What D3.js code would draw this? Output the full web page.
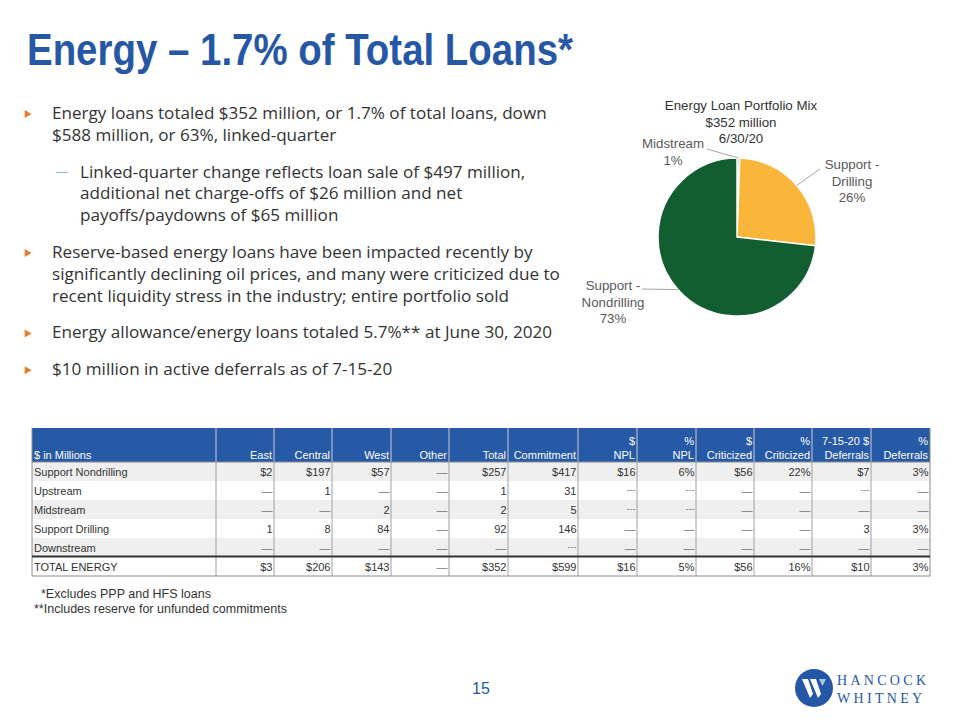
<!DOCTYPE html>
<html>
<head>
<meta charset="utf-8">
<script src="https://cdn.jsdelivr.net/npm/d3@7"></script>
<style>
  body { margin: 0; background: #fff; }
  svg { display: block; }
</style>
</head>
<body>
<svg width="960" height="720"></svg>
<script>
// slide text
const titleText = "Energy \u2013 1.7% of Total Loans*";
const bullets = [
  { level: 1, lines: ["Energy loans totaled $352 million, or 1.7% of total loans, down", "$588 million, or 63%, linked-quarter"] },
  { level: 2, lines: ["Linked-quarter change reflects loan sale of $497 million,", "additional net charge-offs of $26 million and net", "payoffs/paydowns of $65 million"] },
  { level: 1, lines: ["Reserve-based energy loans have been impacted recently by", "significantly declining oil prices, and many were criticized due to", "recent liquidity stress in the industry; entire portfolio sold"] },
  { level: 1, lines: ["Energy allowance/energy loans totaled 5.7%** at June 30, 2020"] },
  { level: 1, lines: ["$10 million in active deferrals as of 7-15-20"] }
];

// pie data
const pieTitle = ["Energy Loan Portfolio Mix", "$352 million", "6/30/20"];
const pieCategories = ["Midstream", "Support - Drilling", "Support - Nondrilling"];
const pieValues = [2, 92, 257];
const pieColors = ["#d3d3d3", "#f9b63b", "#135e30"];

// table data
const headers = [["$ in Millions"], ["East"], ["Central"], ["West"], ["Other"], ["Total"], ["Commitment"],
  ["$", "NPL"], ["%", "NPL"], ["$", "Criticized"], ["%", "Criticized"], ["7-15-20 $", "Deferrals"], ["%", "Deferrals"]];
const rowNames = ["Support Nondrilling", "Upstream", "Midstream", "Support Drilling", "Downstream", "TOTAL ENERGY"];
const supportNondrilling = ["$2", "$197", "$57", "\u2014", "$257", "$417", "$16", "6%", "$56", "22%", "$7", "3%"];
const upstream = ["\u2014", "1", "\u2014", "\u2014", "1", "31", "---", "---", "\u2014", "\u2014", "---", "\u2014"];
const midstream = ["\u2014", "\u2014", "2", "\u2014", "2", "5", "---", "---", "\u2014", "\u2014", "\u2014", "\u2014"];
const supportDrilling = ["1", "8", "84", "\u2014", "92", "146", "\u2014", "\u2014", "\u2014", "\u2014", "3", "3%"];
const downstream = ["\u2014", "\u2014", "\u2014", "\u2014", "\u2014", "---", "\u2014", "\u2014", "\u2014", "\u2014", "\u2014", "\u2014"];
const totalEnergy = ["$3", "$206", "$143", "\u2014", "$352", "$599", "$16", "5%", "$56", "16%", "$10", "3%"];
const tableRows = [supportNondrilling, upstream, midstream, supportDrilling, downstream, totalEnergy];
const footnotes = ["  *Excludes PPP and HFS loans", "**Includes reserve for unfunded commitments"];
const pageNumber = "15";

// layout
const colWidths = [184, 58, 58, 59, 58, 59, 70, 59, 59, 58, 58, 59, 59];
const blue = "#2557a4";
const textColor = "#333333";

const svg = d3.select("svg");
const width = +svg.attr("width");
const height = +svg.attr("height");

// title (condensed face in the original, so squeeze to its width)
svg.append("text")
  .attr("x", 27).attr("y", 65)
  .attr("font-family", "'Liberation Sans', Arial, sans-serif")
  .attr("font-weight", "bold")
  .attr("font-size", 44)
  .attr("textLength", 546)
  .attr("lengthAdjust", "spacingAndGlyphs")
  .attr("fill", blue)
  .text(titleText);

// bullets
const bulletFont = "'Open Sans', 'Liberation Sans', sans-serif";
const lineGap = 21.8;
const paraGap = 15;
let y = 119;
bullets.forEach((b, i) => {
  if (i > 0) y += paraGap;
  const tx = b.level === 1 ? 52 : 80;
  if (b.level === 1) {
    svg.append("path")
      .attr("d", d3.symbol(d3.symbolTriangle, 28)())
      .attr("transform", `translate(27,${y - 5}) rotate(90)`)
      .attr("fill", "#e87d32");
  } else {
    svg.append("line")
      .attr("x1", 56).attr("x2", 68)
      .attr("y1", y - 5).attr("y2", y - 5)
      .attr("stroke", "#8db3e2").attr("stroke-width", 1);
  }
  b.lines.forEach((ln, j) => {
    svg.append("text")
      .attr("x", tx).attr("y", y)
      .attr("font-family", bulletFont)
      .attr("font-size", 17.1)
      .attr("fill", textColor)
      .text(ln);
    if (j < b.lines.length - 1) y += lineGap;
  });
  y += lineGap;
});

// pie chart
const cx = 737, cy = 237, r = 79;
const pieG = svg.append("g").attr("transform", `translate(${cx},${cy})`);
const pie = d3.pie().sort(null).value(d => d)(pieValues);
const total = d3.sum(pieValues);
const arc = d3.arc().innerRadius(0).outerRadius(r);
const edgeArc = d3.arc().innerRadius(r).outerRadius(r);

pieG.selectAll("path.slice").data(pie).enter()
  .append("path")
  .attr("class", "slice")
  .attr("d", arc)
  .attr("fill", (d, i) => pieColors[i])
  .attr("stroke", "#fff")
  .attr("stroke-width", 1.5);

const labelFont = "'Liberation Sans', Arial, sans-serif";
const pieTitleG = svg.append("g")
  .attr("font-family", labelFont)
  .attr("font-size", 13.3)
  .attr("fill", textColor)
  .attr("text-anchor", "middle");
pieTitle.forEach((t, i) => {
  pieTitleG.append("text").attr("x", 741).attr("y", 110 + i * 16.5).text(t);
});

// label layout: text anchor and leader start, relative to centre
const labelLayout = [
  { x: -64, y: -89, lx: -30, ly: -88 },
  { x: 115, y: -68, lx: 83, ly: -68 },
  { x: -124, y: 53, lx: -95, ly: 52 }
];
pie.forEach((d, i) => {
  const L = labelLayout[i];
  const name = pieCategories[i];
  const pct = Math.round(d.value / total * 100) + "%";
  const parts = name.split(" - ");
  const lines = parts.length > 1 ? [parts[0] + " -", parts[1], pct] : [name, pct];
  const [ex, ey] = edgeArc.centroid(d);
  pieG.append("line")
    .attr("x1", L.lx).attr("y1", L.ly)
    .attr("x2", ex).attr("y2", ey)
    .attr("stroke", "#a6a6a6").attr("stroke-width", 1);
  lines.forEach((t, j) => {
    pieG.append("text")
      .attr("x", L.x).attr("y", L.y + j * 16.5)
      .attr("text-anchor", "middle")
      .attr("font-family", labelFont)
      .attr("font-size", 13.3)
      .attr("fill", "#595959")
      .text(t);
  });
});

// table
const tableLeft = 32, headerTop = 428, headerH = 34, rowH = 19;
const edges = [tableLeft];
colWidths.forEach(w => edges.push(edges[edges.length - 1] + w));
const tableRight = edges[edges.length - 1];
const colX = d3.scaleOrdinal().domain(d3.range(colWidths.length)).range(edges);
const rowY = d3.scaleLinear().domain([0, 1]).range([headerTop + headerH, headerTop + headerH + rowH]);
const tableFont = "'Liberation Sans', Arial, sans-serif";

const tbl = svg.append("g").attr("font-family", tableFont).attr("font-size", 11);

tbl.append("rect")
  .attr("x", tableLeft).attr("y", headerTop)
  .attr("width", tableRight - tableLeft).attr("height", headerH)
  .attr("fill", "#2659a6");

// row backgrounds
tableRows.forEach((row, i) => {
  tbl.append("rect")
    .attr("x", tableLeft).attr("y", rowY(i))
    .attr("width", tableRight - tableLeft).attr("height", rowH)
    .attr("fill", i % 2 === 0 && i < 5 ? "#efefef" : "#ffffff");
});

// header texts
headers.forEach((h, c) => {
  const left = c === 0;
  const x = left ? colX(c) + 2 : colX(c) + colWidths[c] - 2;
  h.forEach((t, k) => {
    const line = h.length === 1 ? 1 : k;
    tbl.append("text")
      .attr("x", x).attr("y", headerTop + 17 + line * 14)
      .attr("text-anchor", left ? "start" : "end")
      .attr("fill", "#ffffff")
      .text(t);
  });
});

// body texts
tableRows.forEach((row, i) => {
  tbl.append("text")
    .attr("x", colX(0) + 2).attr("y", rowY(i) + 14)
    .attr("fill", textColor)
    .text(rowNames[i]);
  row.forEach((v, c) => {
    const isDash = v === "\u2014" || v === "---";
    tbl.append("text")
      .attr("x", colX(c + 1) + colWidths[c + 1] - 1.5)
      .attr("y", rowY(i) + (v === "---" ? 12 : 14))
      .attr("text-anchor", "end")
      .attr("fill", isDash ? "#777" : textColor)
      .attr("font-size", v === "---" ? 9 : 11)
      .text(v);
  });
});

// vertical grid lines
edges.forEach((ex, c) => {
  tbl.append("line")
    .attr("x1", ex).attr("x2", ex)
    .attr("y1", headerTop).attr("y2", rowY(tableRows.length))
    .attr("stroke", c === 0 || c === edges.length - 1 ? "#8c8c8c" : "#a0a0a0")
    .attr("stroke-width", 1);
});
// header column separators in lighter blue
edges.slice(1, -1).forEach(ex => {
  tbl.append("line")
    .attr("x1", ex).attr("x2", ex)
    .attr("y1", headerTop).attr("y2", headerTop + headerH)
    .attr("stroke", "#8fa9d6").attr("stroke-width", 1);
});
// header bottom line
tbl.append("line")
  .attr("x1", tableLeft).attr("x2", tableRight)
  .attr("y1", headerTop + headerH).attr("y2", headerTop + headerH)
  .attr("stroke", "#8c8c8c");
// heavy line above total
tbl.append("line")
  .attr("x1", tableLeft).attr("x2", tableRight)
  .attr("y1", rowY(5) - 0.5).attr("y2", rowY(5) - 0.5)
  .attr("stroke", "#333").attr("stroke-width", 2);
// bottom line
tbl.append("line")
  .attr("x1", tableLeft).attr("x2", tableRight)
  .attr("y1", rowY(6)).attr("y2", rowY(6))
  .attr("stroke", "#8c8c8c");

// footnotes
footnotes.forEach((f, i) => {
  svg.append("text")
    .attr("x", 34).attr("y", 598 + i * 15)
    .attr("font-family", labelFont)
    .attr("font-size", 12.5)
    .attr("fill", textColor)
    .style("white-space", "pre")
    .text(f);
});

// page number
svg.append("text")
  .attr("x", 481).attr("y", 694)
  .attr("text-anchor", "middle")
  .attr("font-family", labelFont)
  .attr("font-size", 16)
  .attr("fill", blue)
  .text(pageNumber);

// logo
const logo = svg.append("g").attr("transform", "translate(814,688)");
logo.append("circle").attr("r", 19).attr("fill", "#2458a6");
logo.append("path")
  .attr("d", "M-12,-9 L-6,-9 L-1,6 L-4,10 Z M-4,-9 L2,-9 L7,6 L4,10 Z")
  .attr("fill", "#fff");
logo.append("path")
  .attr("d", "M5,-9 L12,-9 L8.5,-2 Z")
  .attr("fill", "#a9c4ea");
const logoText = svg.append("g")
  .attr("font-family", "'Liberation Serif', 'DejaVu Serif', serif")
  .attr("font-size", 14)
  .attr("fill", "#2458a6")
  .attr("letter-spacing", 3.3);
logoText.append("text").attr("x", 837).attr("y", 685).text("HANCOCK");
logoText.append("text").attr("x", 837).attr("y", 703).text("WHITNEY");
</script>
</body>
</html>
